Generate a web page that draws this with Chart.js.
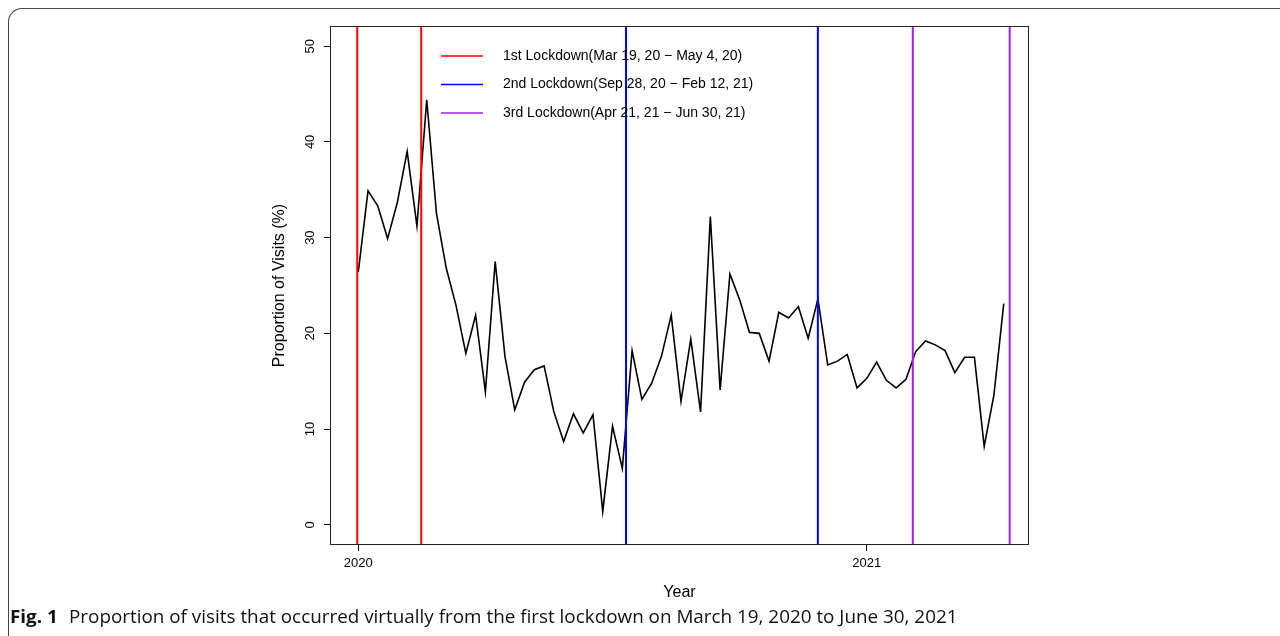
<!DOCTYPE html>
<html>
<head>
<meta charset="utf-8">
<script src="https://cdn.jsdelivr.net/npm/chart.js@4.4.1/dist/chart.umd.min.js"></script>
<style>
  html, body { margin: 0; padding: 0; background: #fff; }
  body { width: 1280px; height: 636px; position: relative; overflow: hidden; }
  #wrap { position: absolute; left: 0; top: 0; width: 1280px; height: 636px; }
  #frame { position: absolute; left: 8px; top: 8px; width: 1300px; height: 700px;
           border-top: 1px solid #444; border-left: 1px solid #444; border-top-left-radius: 14px; pointer-events: none; }
  #caption { position: absolute; left: 10px; top: 604px; font-family: "Open Sans", "Noto Sans", sans-serif;
             font-size: 18px; color: #111; white-space: nowrap; transform-origin: 0 50%; }
  #caption b { font-weight: 700; margin-right: 6px; }
</style>
</head>
<body>
<div id="wrap"><canvas id="c" width="1280" height="636"></canvas></div>
<div id="frame"></div>
<div id="caption"><b>Fig. 1</b> Proportion of visits that occurred virtually from the first lockdown on March 19, 2020 to June 30, 2021</div>
<script>
// ---- data (weekly proportions, starting at week of Mar 19, 2020) ----
const startYear = 2020;
const periodsPerYear = 52;
const visitsPct = [
  26.4, 34.9, 33.3, 29.9, 33.7, 39.0, 31.2, 44.4, 32.5, 26.8,
  22.9, 17.9, 21.9, 13.9, 27.5, 17.6, 12.0, 14.9, 16.2, 16.6,
  11.8, 8.7, 11.6, 9.6, 11.5, 1.4, 10.3, 5.9, 18.2, 13.1,
  14.8, 17.6, 21.9, 12.9, 19.4, 11.8, 32.2, 14.1, 26.2, 23.5,
  20.1, 20.0, 17.1, 22.2, 21.6, 22.8, 19.5, 23.6, 16.7, 17.1,
  17.8, 14.3, 15.3, 17.0, 15.1, 14.3, 15.2, 18.1, 19.2, 18.8,
  18.2, 15.9, 17.5, 17.5, 8.2, 13.6, 23.1
];
// lockdown boundaries (in year units on the x axis)
const lockdownLabels = [
  "1st Lockdown(Mar 19, 20 \u2212 May 4, 20)",
  "2nd Lockdown(Sep 28, 20 \u2212 Feb 12, 21)",
  "3rd Lockdown(Apr 21, 21 \u2212 Jun 30, 21)"
];
const lockdownColors = ["#FF0000", "#0000FF", "#A020F0"];
const lockdownStart = [2019.998, 2020.5265, 2021.0904];
const lockdownEnd   = [2020.1238, 2020.9037, 2021.2809];
const xTicks = [2020, 2021];
const xTickLabels = ["2020", "2021"];
const xMin = 2019.9464, xMax = 2021.3169;
const yTicks = [0, 10, 20, 30, 40, 50];
const yTickLabels = ["0", "10", "20", "30", "40", "50"];
const yMin = -2, yMax = 52;

// ---- build datasets ----
const lineData = visitsPct.map((v, i) => ({ x: startYear + i / periodsPerYear, y: v }));

const datasets = [];
lockdownLabels.forEach((lab, k) => {
  [lockdownStart[k], lockdownEnd[k]].forEach(xv => {
    datasets.push({
      label: lab,
      data: [{ x: xv, y: yMin }, { x: xv, y: yMax }],
      borderColor: lockdownColors[k],
      borderWidth: 2,
      pointRadius: 0,
      order: 0
    });
  });
});
datasets.push({
  label: "Proportion of visits",
  data: lineData,
  borderColor: "#000",
  borderWidth: 1.6,
  pointRadius: 0,
  tension: 0,
  order: 1
});

const FONT = '"Liberation Sans", Arial, sans-serif';
Chart.defaults.color = "#000";
Chart.defaults.font.family = FONT;

const overlay = {
  id: "overlay",
  afterDraw(chart) {
    const ctx = chart.ctx;
    const ca = chart.chartArea;
    const ys = chart.scales.y;
    ctx.save();
    // plot box
    ctx.strokeStyle = "#222";
    ctx.lineWidth = 1;
    ctx.strokeRect(Math.round(ca.left) - 0.5, Math.round(ca.top) - 0.5,
                   Math.round(ca.right) - Math.round(ca.left) + 1, Math.round(ca.bottom) - Math.round(ca.top) + 1);
    // rotated y tick labels
    ctx.fillStyle = "#000";
    ctx.font = "13px " + FONT;
    ys.ticks.forEach((t, i) => {
      const py = ys.getPixelForValue(t.value);
      ctx.save();
      ctx.translate(ca.left - 21, py);
      ctx.rotate(-Math.PI / 2);
      ctx.textAlign = "center";
      ctx.textBaseline = "middle";
      ctx.fillText(yTickLabels[i], 0, 0);
      ctx.restore();
    });
    // legend (no box)
    ctx.font = "14px " + FONT;
    const lx0 = ca.left + 110, lx1 = ca.left + 152, tx = ca.left + 172;
    const rowY = [ca.top + 29, ca.top + 57.5, ca.top + 86];
    lockdownLabels.forEach((lab, k) => {
      ctx.strokeStyle = lockdownColors[k];
      ctx.lineWidth = 1.5;
      ctx.beginPath();
      ctx.moveTo(lx0, rowY[k]);
      ctx.lineTo(lx1, rowY[k]);
      ctx.stroke();
      ctx.textAlign = "left";
      ctx.textBaseline = "middle";
      ctx.fillStyle = "#000";
      ctx.fillText(lab, tx, rowY[k]);
    });
    ctx.restore();
  }
};

new Chart(document.getElementById("c"), {
  type: "line",
  data: { datasets },
  options: {
    responsive: false,
    animation: false,
    layout: { padding: { left: 250, right: 252, top: 27, bottom: 32 } },
    plugins: { legend: { display: false }, tooltip: { enabled: false } },
    scales: {
      x: {
        type: "linear",
        min: xMin,
        max: xMax,
        afterBuildTicks: (s) => { s.ticks = xTicks.map(v => ({ value: v })); },
        afterFit: (s) => { s.height = 60; },
        grid: { drawOnChartArea: false, drawTicks: true, tickLength: 7, tickColor: "#000" },
        border: { display: false },
        ticks: {
          font: { size: 13, family: FONT },
          color: "#000",
          padding: 5,
          maxRotation: 0,
          callback: (v, i) => xTickLabels[i]
        },
        title: { display: true, text: "Year", font: { size: 16, family: FONT }, color: "#000", padding: { top: 0, bottom: 2 } }
      },
      y: {
        type: "linear",
        min: yMin,
        max: yMax,
        afterBuildTicks: (s) => { s.ticks = yTicks.map(v => ({ value: v })); },
        afterFit: (s) => { s.width = 81; },
        grid: { drawOnChartArea: false, drawTicks: true, tickLength: 7, tickColor: "#000" },
        border: { display: false },
        ticks: { display: false },
        title: { display: true, text: "Proportion of Visits (%)", font: { size: 16, family: FONT }, color: "#000", padding: { top: 20, bottom: 0 } }
      }
    }
  },
  plugins: [overlay]
});

// fit caption width to the figure caption line
const cap = document.getElementById("caption");
cap.style.transform = "scaleX(" + (948 / cap.offsetWidth) + ")";
</script>
</body>
</html>
